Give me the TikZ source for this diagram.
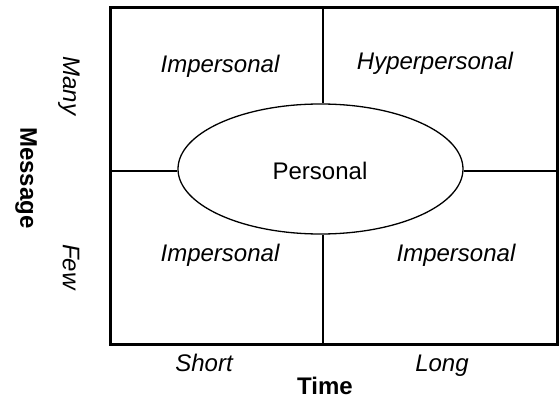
\documentclass[tikz,border=0pt]{standalone}
\usepackage{fontspec}
\setmainfont{Liberation Sans}
\usetikzlibrary{positioning,shapes.geometric}

\begin{document}
\begin{tikzpicture}[x=0.5pt,y=-0.5pt,
  cell/.style={font=\fontsize{12}{14}\selectfont\itshape},
  axis/.style={font=\fontsize{12}{14}\selectfont\bfseries},
  frame/.style={line width=1.5pt},
  split/.style={line width=0.65pt}]

\useasboundingbox (0,0) rectangle (559,401);

%corners of the grid
\coordinate (tl) at (111,8);
\coordinate (br) at (558,345);
\coordinate (midtop) at (323,8);
\coordinate (midbot) at (323,345);
\coordinate (midleft) at (111,171);
\coordinate (midright) at (558,171);

%outer frame
\draw[frame] (tl) rectangle (br);

%the ellipse in the middle
\node[draw,split,ellipse,inner sep=0pt,minimum width=142.5pt,minimum height=65pt] (pers) at (320.5,169) {};
\node[font=\fontsize{12}{14}\selectfont,anchor=base] (perstext) at (320,180) {Personal};

%lines splitting the grid
\draw[split] (midtop) -- (pers.north -| midtop);
\draw[split] (midbot) -- (pers.south -| midbot);
\draw[split] (midleft) -- (pers.west |- midleft);
\draw[split] (midright) -- (pers.east |- midright);

%labels of the four cells
\node[cell,anchor=base] (tlcell) at (220,73) {Impersonal};
\node[cell,anchor=base] (trcell) at (435,70) {Hyperpersonal};
\node[cell,anchor=base] (blcell) at (220,262) {Impersonal};
\node[cell,anchor=base] (brcell) at (456,262) {Impersonal};

%labels of the axes
\node[cell,rotate=-90] (many) at (69,86) {Many};
\node[cell,rotate=-90] (few) at (71,267) {Few};
\node[axis,rotate=-90] (msg) at (26,178) {Message};
\node[cell,anchor=base] (short) at (204,372) {Short};
\node[cell,anchor=base] (long) at (442,372) {Long};
\node[axis,anchor=base] (time) at (325,395) {Time};
\end{tikzpicture}
\end{document}
